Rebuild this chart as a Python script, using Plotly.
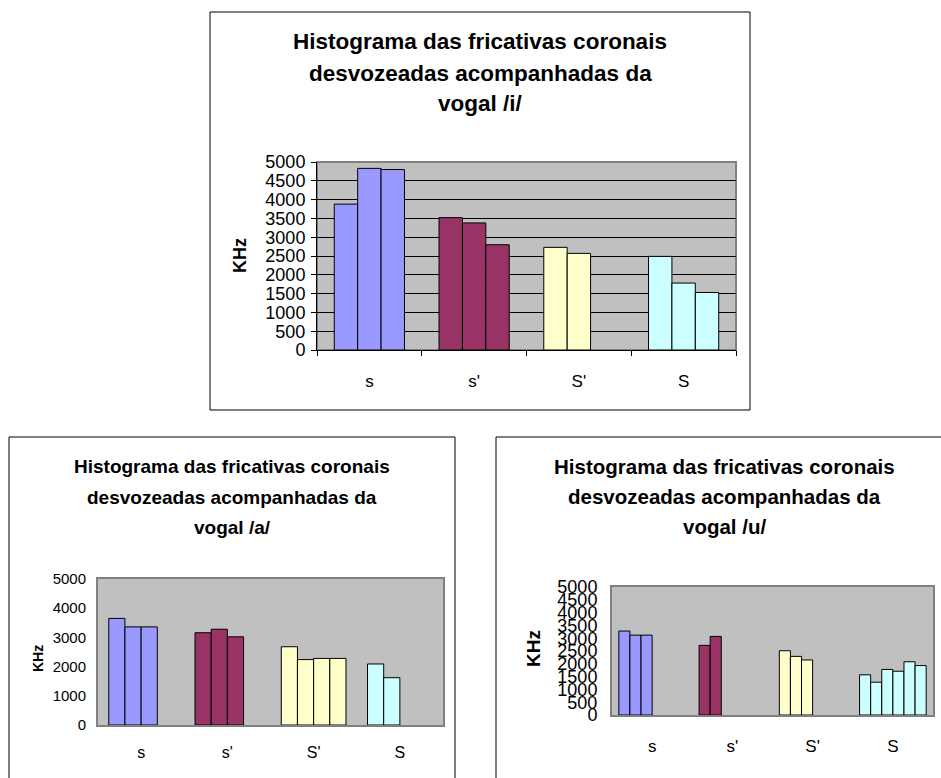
import plotly.graph_objects as go

W, H = 941, 778

# Fricative categories and the colour of each category's bars
categories = ["s", "s'", "S'", "S"]
category_colors = ["#9999FF", "#993366", "#FFFFCC", "#CCFFFF"]

# Peak frequency readings (KHz) per category, one list per vowel context
vogal_i = [[3880, 4830, 4800], [3520, 3380, 2800], [2730, 2570], [2490, 1780, 1530]]
vogal_a = [[3650, 3360, 3360], [3160, 3280, 3020], [2680, 2240, 2280, 2280], [2090, 1620]]
vogal_u = [[3280, 3120, 3120], [2720, 3070], [2510, 2290, 2150],
           [1570, 1280, 1780, 1710, 2080, 1930]]

title_lines = ["Histograma das fricativas coronais", "desvozeadas acompanhadas da"]
vowel_labels = ["vogal /i/", "vogal /a/", "vogal /u/"]

FONT = "Arial, Liberation Sans, sans-serif"


def px(x):
    return x / W


def py(y):
    return 1 - y / H


fig = go.Figure()


def add_bars(groups, xa, ya, fill):
    """One trace per series slot; `fill` is the share of a category the group spans."""
    n_series = max(len(g) for g in groups)
    w = fill / n_series
    for k in range(n_series):
        fig.add_trace(go.Bar(
            x=categories,
            y=[g[k] if k < len(g) else None for g in groups],
            width=w, offset=-fill / 2 + k * w,
            marker=dict(color=category_colors, line=dict(color="black", width=1)),
            xaxis=xa, yaxis=ya, showlegend=False, hoverinfo="skip",
        ))


add_bars(vogal_i, "x", "y", 0.67)
add_bars(vogal_a, "x2", "y2", 0.75)
add_bars(vogal_u, "x3", "y3", 0.83)

# Chart frames (pixel boxes)
frames = [(210, 12, 750, 410), (9, 437, 455, 790), (496, 437, 960, 790)]
for x0, y0, x1, y1 in frames:
    fig.add_shape(type="rect", xref="paper", yref="paper",
                  x0=px(x0), x1=px(x1), y0=py(y1), y1=py(y0),
                  line=dict(color="black", width=1), fillcolor="rgba(0,0,0,0)",
                  layer="above")

# Gray border of the first plot area (axes drawn black over it)
fig.add_shape(type="rect", xref="x domain", yref="y domain", x0=0, x1=1, y0=0, y1=1,
              line=dict(color="#808080", width=2), layer="below")

# Titles: (center x, line y positions, font size)
title_specs = [(480, [42, 74, 103], 22.5, 0), (232, [466, 497, 527], 19, 1),
               (724, [466, 496, 526], 20.5, 2)]
for cx, ys, fs, idx in title_specs:
    for text, y in zip(title_lines + [vowel_labels[idx]], ys):
        fig.add_annotation(text=f"<b>{text}</b>", xref="paper", yref="paper",
                           x=px(cx), y=py(y), showarrow=False,
                           xanchor="center", yanchor="middle",
                           font=dict(family=FONT, size=fs, color="black"))

# Y axis titles
for x, y, fs in [(240, 256, 18), (38, 659, 14), (533, 649, 19)]:
    fig.add_annotation(text="<b>KHz</b>", xref="paper", yref="paper", x=px(x), y=py(y),
                       showarrow=False, textangle=-90, xanchor="center", yanchor="middle",
                       font=dict(family=FONT, size=fs, color="black"))

fig.update_layout(
    template="none",
    width=W, height=H, margin=dict(l=0, r=0, t=0, b=0, pad=0),
    paper_bgcolor="white", plot_bgcolor="#C0C0C0",
    barmode="overlay",
    font=dict(family=FONT, color="black"),
    xaxis=dict(domain=[px(317), px(736)], anchor="y", type="category", automargin=False,
               showline=True, linecolor="black", linewidth=1,
               ticks="outside", ticklen=5, tickcolor="black", tickson="boundaries",
               showgrid=False, tickfont=dict(size=17), ticklabelstandoff=16),
    yaxis=dict(domain=[py(350), py(162)], anchor="x", range=[0, 5000], dtick=500,
               automargin=False,
               showline=True, linecolor="black", linewidth=1,
               ticks="outside", ticklen=5, tickcolor="black",
               showgrid=True, gridcolor="black", gridwidth=1, zeroline=False,
               tickfont=dict(size=18), ticklabelstandoff=2),
    xaxis2=dict(domain=[px(98), px(443)], anchor="y2", type="category", automargin=False,
                showline=True, mirror=True, linecolor="#808080", linewidth=2,
                ticks="", showgrid=False, tickfont=dict(size=16), ticklabelstandoff=12),
    yaxis2=dict(domain=[py(725), py(579)], anchor="x2", range=[0, 5000], dtick=1000,
                automargin=False,
                showline=True, mirror=True, linecolor="#808080", linewidth=2,
                ticks="", showgrid=False, zeroline=False,
                tickfont=dict(size=15), ticklabelstandoff=7),
    xaxis3=dict(domain=[px(612), px(933)], anchor="y3", type="category", automargin=False,
                showline=True, mirror=True, linecolor="#808080", linewidth=2,
                ticks="", showgrid=False, tickfont=dict(size=17), ticklabelstandoff=15),
    yaxis3=dict(domain=[py(715), py(587)], anchor="x3", range=[0, 5000], dtick=500,
                automargin=False,
                showline=True, mirror=True, linecolor="#808080", linewidth=2,
                ticks="", showgrid=False, zeroline=False,
                tickfont=dict(size=18), ticklabelstandoff=9),
)

fig.write_html("out.html")
